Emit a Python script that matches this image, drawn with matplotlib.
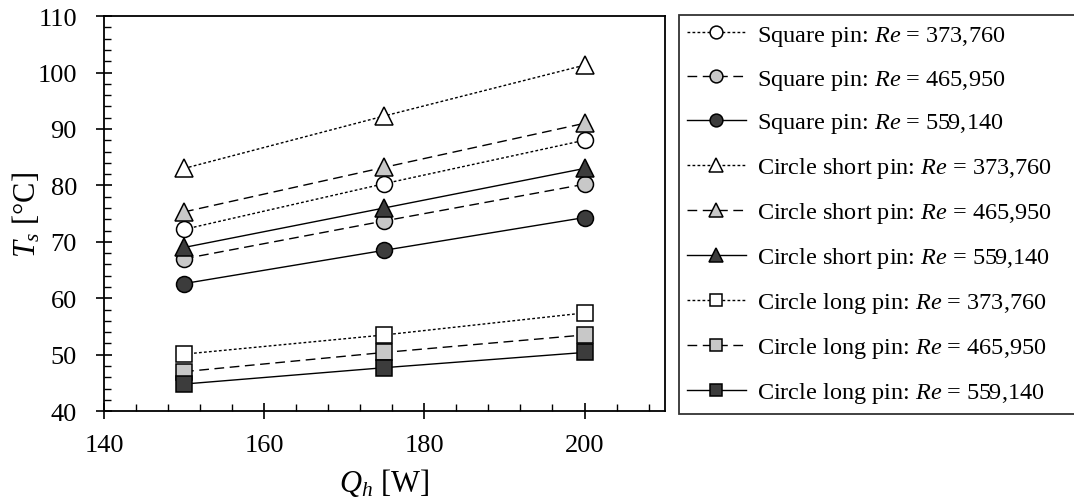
import matplotlib
matplotlib.use('Agg')
import matplotlib.pyplot as plt
from matplotlib.ticker import MultipleLocator

plt.rcParams['font.family'] = ['Liberation Serif', 'DejaVu Serif']
plt.rcParams['mathtext.fontset'] = 'custom'
plt.rcParams['mathtext.rm'] = 'Liberation Serif'
plt.rcParams['mathtext.it'] = 'Liberation Serif:italic'

# data
q_h = [150, 175, 200]
square_373760 = [72.2, 80.3, 88.0]
square_465950 = [67.0, 73.7, 80.2]
square_559140 = [62.6, 68.5, 74.3]
short_373760 = [83.0, 92.3, 101.3]
short_465950 = [75.3, 83.2, 91.0]
short_559140 = [69.0, 76.0, 83.0]
long_373760 = [50.1, 53.5, 57.4]
long_465950 = [47.0, 50.4, 53.5]
long_559140 = [44.8, 47.7, 50.4]

re_labels = ['373,760', '465,950', '559,140']
pin_names = ['Square pin', 'Circle short pin', 'Circle long pin']
series = [[square_373760, square_465950, square_559140],
          [short_373760, short_465950, short_559140],
          [long_373760, long_465950, long_559140]]

markers = ['o', '^', 's']
fills = ['white', '#c8c8c8', '#3c3c3c']
styles = [(0, (2, 1.6)), (0, (7, 4)), '-']

fig = plt.figure(figsize=(10.74, 5.02), dpi=100)
ax = fig.add_axes([0.0968, 0.179, 0.522, 0.787])

handles = []
for i, pin in enumerate(pin_names):
    for j, re in enumerate(re_labels):
        h, = ax.plot(q_h, series[i][j], linestyle=styles[j], color='black', lw=1.0,
                     marker=markers[i], markersize=11.5 if markers[i] != '^' else 12.5,
                     markerfacecolor=fills[j], markeredgecolor='black', markeredgewidth=1.1,
                     label=pin + ': $Re$ = ' + re)
        handles.append(h)

ax.set_xlim(140, 210)
ax.set_ylim(40, 110)
ax.xaxis.set_major_locator(MultipleLocator(20))
ax.xaxis.set_minor_locator(MultipleLocator(4))
ax.yaxis.set_major_locator(MultipleLocator(10))
ax.yaxis.set_minor_locator(MultipleLocator(2))
ax.tick_params(which='major', direction='inout', length=11, width=1.2, labelsize=19)
ax.tick_params(axis='x', which='major', pad=11)
ax.tick_params(axis='y', which='major', pad=14)
ax.tick_params(which='minor', direction='in', length=5, width=1.0)
ax.tick_params(top=False, right=False, which='both')
for s in ax.spines.values():
    s.set_linewidth(1.3)

ax.set_xlabel('$Q_h$ [W]', fontsize=22, labelpad=7)
ax.set_ylabel('$T_s$ [°C]', fontsize=22, labelpad=-4)

leg = fig.legend(handles=handles, loc='upper left',
                 bbox_to_anchor=(0.632, 0.968, 0.37, 0.0), mode='expand',
                 fontsize=17.5, frameon=True, fancybox=False, edgecolor='black',
                 handlelength=2.4, handletextpad=0.45, labelspacing=0.82,
                 markerscale=0.8, borderpad=0.35, borderaxespad=0)
leg.get_frame().set_linewidth(1.3)

fig.savefig('out.png', dpi=100)
